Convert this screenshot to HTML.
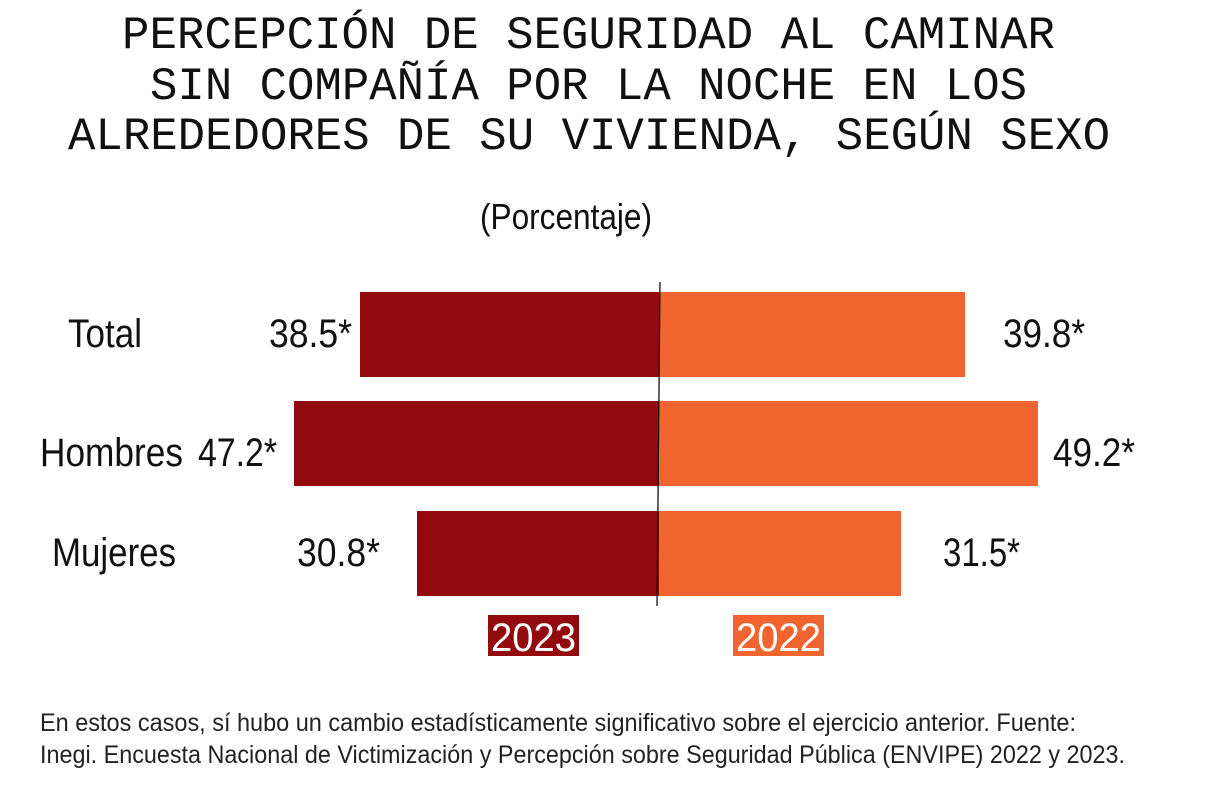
<!DOCTYPE html>
<html><head><meta charset="utf-8"><style>html,body{margin:0;padding:0;background:#fff}svg{display:block}</style></head>
<body>
<svg width="1215" height="789" viewBox="0 0 1215 789" xmlns="http://www.w3.org/2000/svg">
<g font-family="Liberation Mono, monospace" font-size="46" fill="#111">
<text x="122" y="48" textLength="933" lengthAdjust="spacingAndGlyphs">PERCEPCIÓN DE SEGURIDAD AL CAMINAR</text>
<text x="150" y="99" textLength="877" lengthAdjust="spacingAndGlyphs">SIN COMPAÑÍA POR LA NOCHE EN LOS</text>
<text x="68" y="149" textLength="1042" lengthAdjust="spacingAndGlyphs">ALREDEDORES DE SU VIVIENDA, SEGÚN SEXO</text>
</g>
<g font-family="Liberation Sans, sans-serif" fill="#111">
<text x="480" y="229" font-size="36" textLength="172" lengthAdjust="spacingAndGlyphs">(Porcentaje)</text>
<rect x="360" y="292" width="299" height="85" fill="#930a0e"/>
<rect x="659" y="292" width="306" height="85" fill="#f0652f"/>
<rect x="294" y="401" width="365" height="85" fill="#930a0e"/>
<rect x="659" y="401" width="379" height="85" fill="#f0652f"/>
<rect x="417" y="511" width="242" height="85" fill="#930a0e"/>
<rect x="659" y="511" width="242" height="85" fill="#f0652f"/>
<line x1="660" y1="282" x2="657" y2="606" stroke="#111" stroke-width="1.3"/>
<g font-size="40">
<text x="68" y="347" textLength="74" lengthAdjust="spacingAndGlyphs">Total</text>
<text x="269" y="347" textLength="83" lengthAdjust="spacingAndGlyphs">38.5*</text>
<text x="1003" y="347" textLength="82" lengthAdjust="spacingAndGlyphs">39.8*</text>
<text x="40" y="466" textLength="143" lengthAdjust="spacingAndGlyphs">Hombres</text>
<text x="198" y="466" textLength="79" lengthAdjust="spacingAndGlyphs">47.2*</text>
<text x="1053" y="466" textLength="82" lengthAdjust="spacingAndGlyphs">49.2*</text>
<text x="52" y="566" textLength="124" lengthAdjust="spacingAndGlyphs">Mujeres</text>
<text x="297" y="566" textLength="83" lengthAdjust="spacingAndGlyphs">30.8*</text>
<text x="943" y="566" textLength="77" lengthAdjust="spacingAndGlyphs">31.5*</text>
</g>
<rect x="488" y="615" width="91" height="41" fill="#930a0e"/>
<rect x="733" y="615" width="91" height="41" fill="#f0652f"/>
<g font-size="40" fill="#fff">
<text x="491" y="651" textLength="85" lengthAdjust="spacingAndGlyphs">2023</text>
<text x="736" y="651" textLength="85" lengthAdjust="spacingAndGlyphs">2022</text>
</g>
<g font-size="25" fill="#222">
<text x="40" y="731" textLength="1036" lengthAdjust="spacingAndGlyphs">En estos casos, sí hubo un cambio estadísticamente significativo sobre el ejercicio anterior. Fuente:</text>
<text x="40" y="763" textLength="1085" lengthAdjust="spacingAndGlyphs">Inegi. Encuesta Nacional de Victimización y Percepción sobre Seguridad Pública (ENVIPE) 2022 y 2023.</text>
</g>
</g>
</svg>
</body></html>
